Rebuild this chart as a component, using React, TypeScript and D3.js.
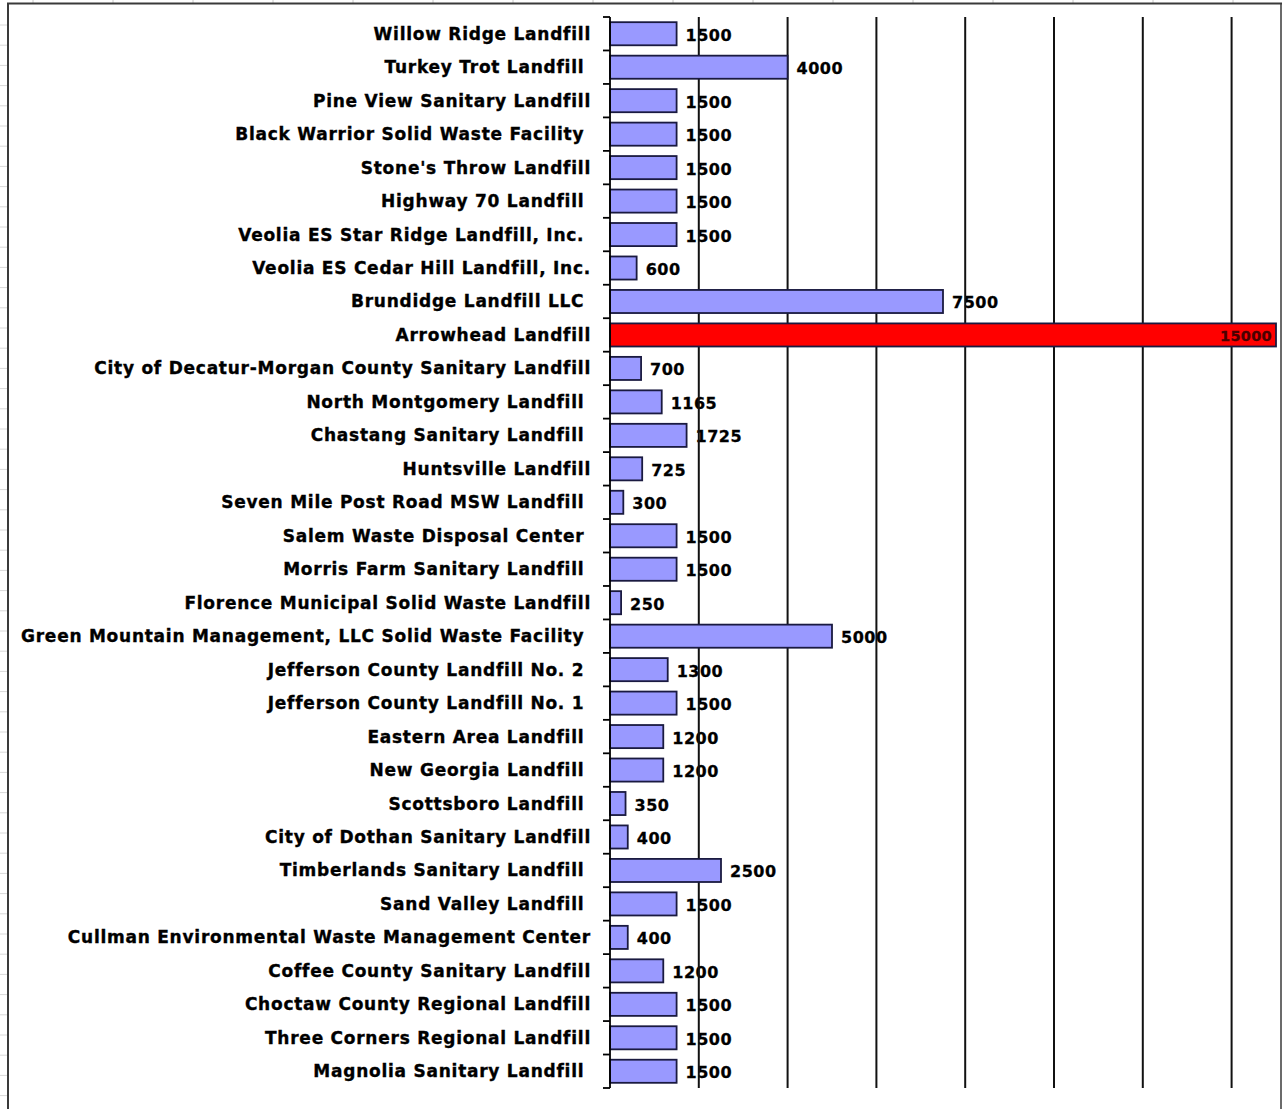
import React from "react";
import * as d3 from "d3";

const categories = [
  "Willow Ridge Landfill",
  "Turkey Trot Landfill ",
  "Pine View Sanitary Landfill",
  "Black Warrior Solid Waste Facility ",
  "Stone's Throw Landfill",
  "Highway 70 Landfill ",
  "Veolia ES Star Ridge Landfill, Inc. ",
  "Veolia ES Cedar Hill Landfill, Inc.",
  "Brundidge Landfill LLC ",
  "Arrowhead Landfill",
  "City of Decatur-Morgan County Sanitary Landfill",
  "North Montgomery Landfill ",
  "Chastang Sanitary Landfill ",
  "Huntsville Landfill",
  "Seven Mile Post Road MSW Landfill ",
  "Salem Waste Disposal Center ",
  "Morris Farm Sanitary Landfill ",
  "Florence Municipal Solid Waste Landfill",
  "Green Mountain Management, LLC Solid Waste Facility ",
  "Jefferson County Landfill No. 2 ",
  "Jefferson County Landfill No. 1 ",
  "Eastern Area Landfill ",
  "New Georgia Landfill ",
  "Scottsboro Landfill ",
  "City of Dothan Sanitary Landfill",
  "Timberlands Sanitary Landfill ",
  "Sand Valley Landfill ",
  "Cullman Environmental Waste Management Center",
  "Coffee County Sanitary Landfill",
  "Choctaw County Regional Landfill",
  "Three Corners Regional Landfill",
  "Magnolia Sanitary Landfill ",
];

const values = [
  1500, 4000, 1500, 1500, 1500, 1500, 1500, 600, 7500, 15000, 700, 1165, 1725,
  725, 300, 1500, 1500, 250, 5000, 1300, 1500, 1200, 1200, 350, 400, 2500,
  1500, 400, 1200, 1500, 1500, 1500,
];

const highlighted = ["Arrowhead Landfill"];
const gridValues = [2000, 4000, 6000, 8000, 10000, 12000, 14000];
const xDomain = [0, 15000];

const W = 1282;
const H = 1109;

export default function App() {
  const x = d3.scaleLinear().domain(xDomain).range([610, 1276]);
  const y = d3
    .scaleBand<string>()
    .domain(categories)
    .range([17, 1088])
    .paddingInner(0.31)
    .paddingOuter(0.155);
  const step = y.step();
  const [y0, y1] = y.range();
  const boundaries = d3.range(categories.length + 1).map((i) => y0 + i * step);
  const font = "'DejaVu Sans', Verdana, sans-serif";

  const topRuler = d3.range(33, W, 80);
  const leftRuler = d3.range(25, H, 20.2);

  return (
    <svg
      width={W}
      height={H}
      style={{ position: "absolute", left: 0, top: 0, background: "#fff" }}
    >
      <rect x={0} y={0} width={W} height={H} fill="#fff" />
      {/* faint ruler marks outside frame */}
      {topRuler.map((t) => (
        <line key={"tr" + t} x1={t} x2={t} y1={0} y2={3} stroke="#c8c8c8" strokeWidth={1} />
      ))}
      {leftRuler.map((t) => (
        <line key={"lr" + t} x1={0} x2={7} y1={t} y2={t} stroke="#d8d8d8" strokeWidth={1} />
      ))}
      {/* frame */}
      <line x1={7} x2={1282} y1={3.5} y2={3.5} stroke="#3a3a3a" strokeWidth={2} />
      <line x1={8} x2={8} y1={3} y2={H} stroke="#3a3a3a" strokeWidth={2} />
      <line x1={1281} x2={1281} y1={3} y2={H} stroke="#3a3a3a" strokeWidth={1.5} />

      {/* category labels */}
      {categories.map((c) => (
        <text
          key={"c" + c}
          x={591}
          y={(y(c) ?? 0) + y.bandwidth() / 2 + 6}
          textAnchor="end"
          fontFamily={font}
          fontWeight="bold"
          fontSize={17}
          letterSpacing={0.75}
          fill="#000"
          stroke="#000"
          strokeWidth={0.35}
          style={{ whiteSpace: "pre" }}
        >
          {c}
        </text>
      ))}

      {/* value labels (outside bars) */}
      {categories.map((c, i) =>
        highlighted.includes(c) ? null : (
          <text
            key={"v" + c}
            x={x(values[i]) + 9}
            y={(y(c) ?? 0) + y.bandwidth() / 2 + 7}
            fontFamily={font}
            fontWeight="bold"
            fontSize={16}
            letterSpacing={0.5}
            fill="#000"
            stroke="#000"
            strokeWidth={0.3}
          >
            {values[i]}
          </text>
        )
      )}

      {/* gridlines */}
      {gridValues.map((g) => (
        <line
          key={"g" + g}
          x1={x(g)}
          x2={x(g)}
          y1={y0}
          y2={y1}
          stroke="#111"
          strokeWidth={2}
        />
      ))}

      {/* bars */}
      {categories.map((c, i) => (
        <rect
          key={"b" + c}
          x={x(0)}
          y={y(c)}
          width={x(values[i]) - x(0)}
          height={y.bandwidth()}
          fill={highlighted.includes(c) ? "#ff0000" : "#9999ff"}
          stroke="#1a1a40"
          strokeWidth={1.8}
        />
      ))}

      {/* inside label for highlighted */}
      {categories.map((c, i) =>
        highlighted.includes(c) ? (
          <text
            key={"hv" + c}
            x={x(values[i]) - 4}
            y={(y(c) ?? 0) + y.bandwidth() / 2 + 6}
            textAnchor="end"
            fontFamily={font}
            fontWeight="bold"
            fontSize={14.5}
            letterSpacing={0.3}
            fill="#4a0000"
            stroke="#4a0000"
            strokeWidth={0.3}
          >
            {values[i]}
          </text>
        ) : null
      )}

      {/* axis */}
      <line x1={x(0)} x2={x(0)} y1={y0} y2={y1} stroke="#000" strokeWidth={1.8} />
      {boundaries.map((b, i) => (
        <line key={"t" + i} x1={603} x2={x(0)} y1={b} y2={b} stroke="#000" strokeWidth={1.8} />
      ))}
    </svg>
  );
}
